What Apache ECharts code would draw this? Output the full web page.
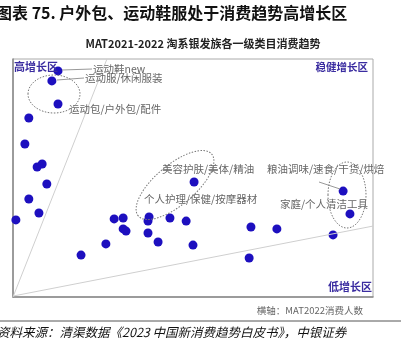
<!DOCTYPE html>
<html>
<head>
<meta charset="utf-8">
<title>户外包、运动鞋服处于消费趋势高增长区</title>
<script src="https://cdn.jsdelivr.net/npm/echarts/dist/echarts.min.js"></script>
<style>
	html, body { margin: 0; padding: 0; background: #fff; }
	#main { width: 401px; height: 339px; }
</style>
</head>
<body>
<div id="main"></div>
<script>
// 横轴: MAT2022消费人数 (相对值), 纵轴: 增速 (相对值)
var peopleX = [12.5, 10.8, 12.5, 4.4, 3.3, 6.7, 8.1, 9.4, 4.4, 7.2, 0.8,
	28.1, 30.6, 30.6, 31.4, 25.8, 18.9, 37.8, 37.5, 43.6, 48.1, 37.5,
	40.3, 50.0, 50.3, 66.1, 73.3, 88.9, 91.7, 93.6, 65.6];
var growthY = [95.0, 90.8, 81.1, 75.2, 64.3, 54.6, 55.9, 47.5, 41.2, 35.3, 32.4,
	32.8, 33.2, 28.6, 27.7, 22.3, 17.6, 33.6, 31.9, 33.2, 31.9, 26.9,
	23.1, 21.8, 48.3, 29.4, 28.6, 26.1, 44.5, 34.9, 16.4];

// 分区线
var steepLine = [[0, 0], [26.1, 100]];
var flatLine = [[0, 0.4], [100, 29.8]];

var titleText = '图表 75. 户外包、运动鞋服处于消费趋势高增长区';
var chartTitle = 'MAT2021-2022 淘系银发族各一级类目消费趋势';
var sourceText = '资料来源：清渠数据《2023 中国新消费趋势白皮书》，中银证券';

var points = [];
for (var i = 0; i < peopleX.length; i++) {
	points.push([peopleX[i], growthY[i]]);
}

var FONT = '"Noto Sans CJK SC", "Noto Sans", sans-serif';
var zoneColor = '#3a2ca0';
var noteColor = '#666';

function txt(x, y, text, size, color, opt) {
	opt = opt || {};
	return {
		type: 'text', x: x, y: y, silent: true, z: 10,
		style: {
			text: text, fill: color, fontSize: size, fontFamily: FONT,
			fontWeight: opt.bold ? 'bold' : 'normal',
			fontStyle: opt.italic ? 'italic' : 'normal',
			textAlign: opt.align || 'left', textVerticalAlign: 'middle'
		}
	};
}
function seg(x1, y1, x2, y2, color, w) {
	return {
		type: 'line', silent: true, z: 10,
		shape: { x1: x1, y1: y1, x2: x2, y2: y2 },
		style: { stroke: color, lineWidth: w || 1 }
	};
}
function oval(cx, cy, rx, ry, rot) {
	return {
		type: 'ellipse', x: cx, y: cy, rotation: rot || 0, silent: true, z: 10,
		shape: { cx: 0, cy: 0, rx: rx, ry: ry },
		style: { fill: 'none', stroke: '#777', lineWidth: 1, lineDash: [1.5, 1.5] }
	};
}

var myChart = echarts.init(document.getElementById('main'));
var option = {
	backgroundColor: '#fff',
	animation: false,
	grid: {
		left: 13, top: 59, right: 28, bottom: 42,
		show: true, borderColor: '#aaa', borderWidth: 1, backgroundColor: '#fff'
	},
	xAxis: {
		type: 'value', min: 0, max: 100,
		axisLine: { show: true, onZero: false, lineStyle: { color: '#888', width: 1.5 } },
		axisTick: { show: false }, axisLabel: { show: false }, splitLine: { show: false }
	},
	yAxis: {
		type: 'value', min: 0, max: 100,
		axisLine: { show: true, onZero: false, lineStyle: { color: '#888', width: 1.5 } },
		axisTick: { show: false }, axisLabel: { show: false }, splitLine: { show: false }
	},
	series: [{
		type: 'line', data: steepLine, symbol: 'none', silent: true,
		lineStyle: { color: '#cfcfcf', width: 1 }
	}, {
		type: 'line', data: flatLine, symbol: 'none', silent: true,
		lineStyle: { color: '#cfcfcf', width: 1 }
	}, {
		type: 'scatter', data: points, symbolSize: 9,
		itemStyle: { color: '#1d0fbf', opacity: 1 }
	}],
	graphic: [
		txt(-4, 13, titleText, 16, '#111', { bold: true }),
		txt(203, 44, chartTitle, 11, '#222', { bold: true, align: 'center' }),
		// 分区名称
		txt(14, 67, '高增长区', 11, zoneColor, { bold: true }),
		txt(368, 67, '稳健增长区', 10.5, zoneColor, { bold: true, align: 'right' }),
		txt(372, 287, '低增长区', 11, zoneColor, { bold: true, align: 'right' }),
		// 类目标注
		txt(93, 69, '运动鞋new', 10.5, noteColor),
		txt(85, 78, '运动服/休闲服装', 10.5, noteColor),
		txt(69, 109, '运动包/户外包/配件', 10.5, noteColor),
		txt(162, 169, '美容护肤/美体/精油', 10.5, noteColor),
		txt(144, 199, '个人护理/保健/按摩器材', 10.5, noteColor),
		txt(267, 169, '粮油调味/速食/干货/烘焙', 10.5, noteColor),
		txt(280, 204, '家庭/个人清洁工具', 10.5, noteColor),
		seg(62, 70, 92, 69, '#999'),
		seg(57, 80, 84, 78, '#999'),
		seg(319, 182, 340, 189, '#999'),
		oval(54, 94, 26, 19, 0),
		oval(175, 185, 48, 20, 0.7),
		oval(347, 195, 19, 33, 0),
		txt(363, 310, '横轴：MAT2022消费人数', 9.5, '#666', { align: 'right' }),
		seg(0, 321, 401, 321, '#555', 1),
		txt(-3, 332, sourceText, 12.5, '#111', { italic: true })
	]
};
myChart.setOption(option);
</script>
</body>
</html>
